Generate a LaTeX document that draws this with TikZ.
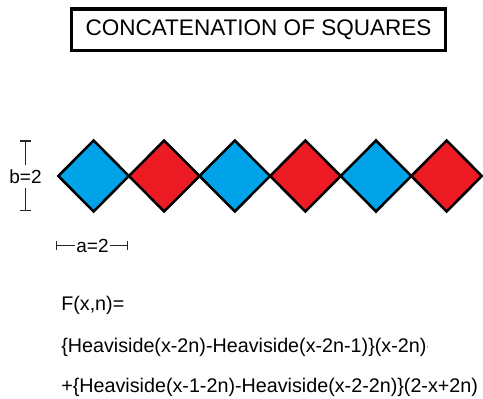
\documentclass[tikz,border=0pt]{standalone}
\usepackage{fontspec}
\setmainfont{Liberation Sans}
\usepackage{tikz}
\usetikzlibrary{arrows.meta}
\definecolor{sqblue}{RGB}{0,162,232}
\definecolor{sqred}{RGB}{237,28,36}
\tikzset{
  sqtitle/.style={draw=black, line width=2.5pt, minimum width=280.2pt, minimum height=31.1pt, inner sep=0pt, font=\fontsize{16.9}{19}\selectfont},
  sqdiam/.style={draw=black, line width=1.9pt, line join=miter},
  sqdim/.style={line width=1.1pt, draw=black!85},
  sqlab/.style={font=\fontsize{14.25}{16}\selectfont, inner xsep=1pt, inner ysep=3pt},
  sqformula/.style={font=\fontsize{14.8}{16}\selectfont, anchor=base west, inner sep=0pt}
}

\begin{document}
\begin{tikzpicture}[x=0.75pt, y=-0.75pt]
  \useasboundingbox (0,0) rectangle (483,399);
  \node[sqtitle] (title) at (258.5,29.75) {CONCATENATION OF SQUARES};
  % row of squares
  \foreach \i/\c in {0/sqblue,1/sqred,2/sqblue,3/sqred,4/sqblue,5/sqred} {
    \pgfmathsetmacro{\cx}{93.6+70.6*\i}
    \draw[sqdiam, fill=\c] (\cx-35.3,176) -- (\cx,140.5) -- (\cx+35.3,176) -- (\cx,211.5) -- cycle;
  }
  % dimensions
  \coordinate (btop) at (25.5,140.5);
  \coordinate (bbot) at (25.5,211.5);
  \node[sqlab] (blab) at (25.5,176.5) {b=2};
  \draw[sqdim, {Bar[width=8pt]}-] (btop) -- (blab);
  \draw[sqdim, -{Bar[width=8pt]}] (blab) -- (bbot);
  \coordinate (aleft) at (56,245.5);
  \coordinate (aright) at (128.3,245.5);
  \node[sqlab] (alab) at (92.5,245.5) {a=2};
  \draw[sqdim, {Bar[width=6.75pt]}-] (aleft) -- (alab);
  \draw[sqdim, -{Bar[width=6.75pt]}] (alab) -- (aright);
  % formula
  \node[sqformula] (fline) at (61,311) {F(x,n)=};
  \node[sqformula] (hline) at (61,352.5) {\{Heaviside(x-2n)-Heaviside(x-2n-1)\}(x-2n)\raisebox{2.5pt}{\fontsize{6}{6}\selectfont\textperiodcentered}};
  \node[sqformula] (pline) at (61,393) {+\{Heaviside(x-1-2n)-Heaviside(x-2-2n)\}(2-x+2n)};
\end{tikzpicture}
\end{document}
